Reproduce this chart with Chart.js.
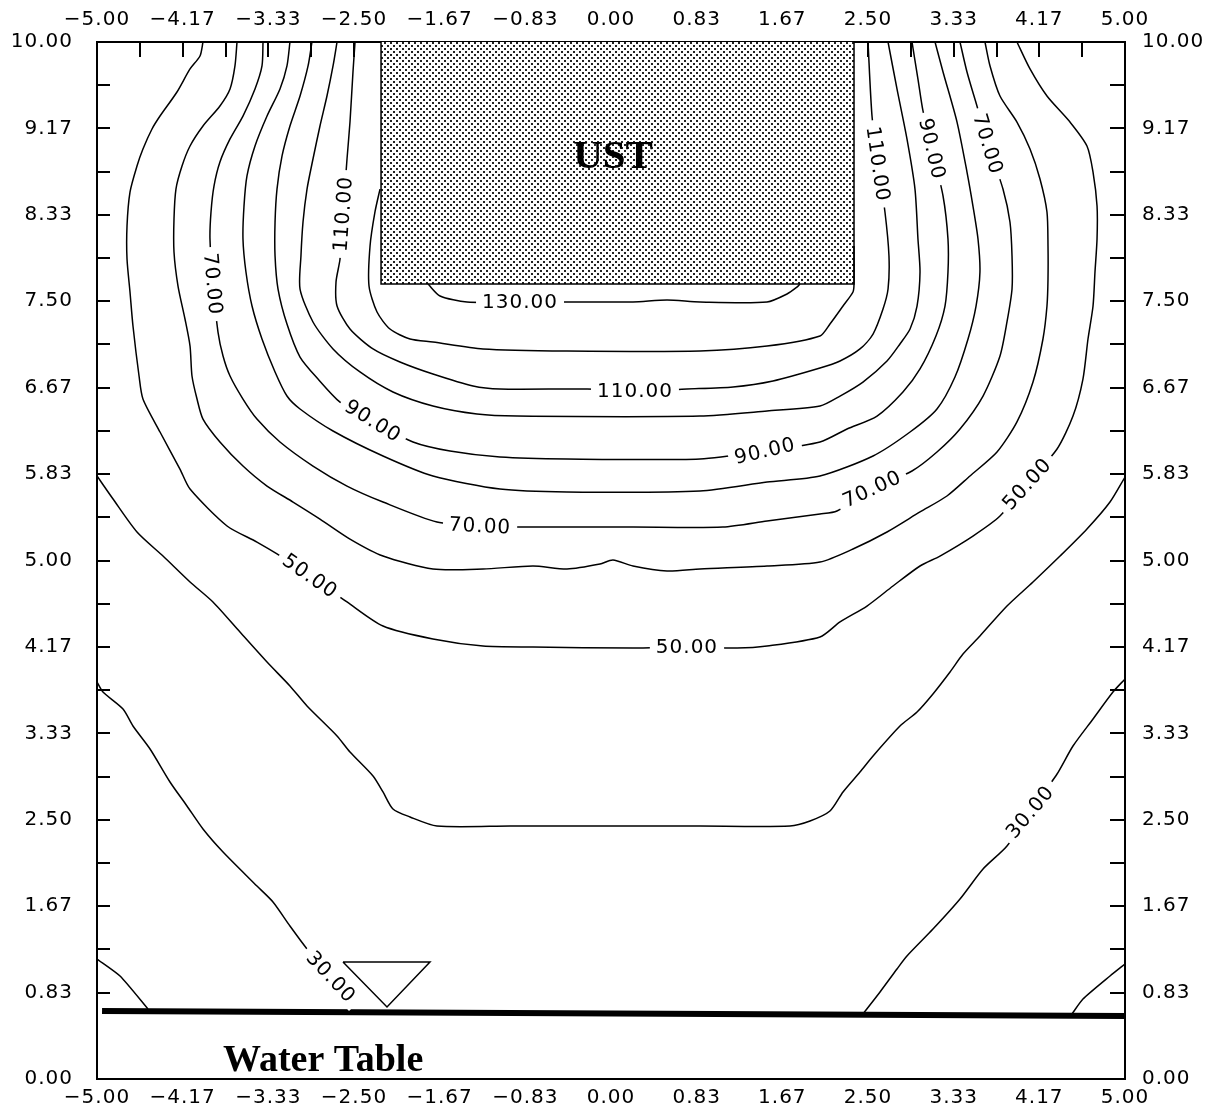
<!DOCTYPE html>
<html><head><meta charset="utf-8">
<script src="https://cdn.jsdelivr.net/npm/chart.js@4.4.1/dist/chart.umd.min.js"></script>
<style>html,body{margin:0;padding:0;background:#fff}canvas{display:block}</style>
</head><body>
<canvas id="c" width="1205" height="1119"></canvas>
<script>
const xTickLabels = ['\u22125.00','\u22124.17','\u22123.33','\u22122.50','\u22121.67','\u22120.83','0.00','0.83','1.67','2.50','3.33','4.17','5.00'];
const yTickLabels = ['0.00','0.83','1.67','2.50','3.33','4.17','5.00','5.83','6.67','7.50','8.33','9.17','10.00'];

const ust = [[-2.237,10],[-2.237,7.666],[2.364,7.666],[2.364,10]];
const waterTable = [[-4.951,0.656],[5.0,0.608]];
const triangle = [[-2.607,1.128],[-1.761,1.128],[-2.179,0.694],[-2.607,1.128]];

const cornerL = [[-5.0,1.157],[-4.776,0.993],[-4.504,0.675]];
const cornerR = [[4.484,0.627],[4.591,0.771],[4.854,0.993],[5.0,1.109]];
const c30L = [[-5.0,3.828],[-4.942,3.732],[-4.747,3.568],[-4.650,3.404],[-4.484,3.182],[-4.290,2.864],[-4.125,2.633],[-3.969,2.411],[-3.774,2.189],[-3.444,1.861],[-3.288,1.707],[-3.123,1.475],[-2.957,1.254],[-2.724,0.984],[-2.55,0.78]];
const c30R = [[2.451,0.627],[2.617,0.839],[2.782,1.061],[2.879,1.186],[3.132,1.446],[3.395,1.736],[3.619,2.025],[3.852,2.247],[4.076,2.575],[4.339,2.941],[4.494,3.211],[4.689,3.472],[4.883,3.732],[5.0,3.857]];
const c40 = [[-5.0,5.815],[-4.844,5.593],[-4.611,5.275],[-4.358,5.043],[-4.095,4.793],[-3.872,4.600],[-3.609,4.310],[-3.346,4.021],[-3.123,3.790],[-2.957,3.597],[-2.665,3.308],[-2.539,3.153],[-2.315,2.922],[-2.218,2.768],[-2.121,2.604],[-1.955,2.527],[-1.693,2.440],[-0.982,2.440],[0.866,2.440],[1.741,2.440],[1.936,2.488],[2.130,2.584],[2.257,2.768],[2.422,2.960],[2.549,3.115],[2.811,3.404],[2.977,3.539],[3.132,3.713],[3.298,3.925],[3.424,4.098],[3.589,4.272],[3.852,4.561],[4.105,4.793],[4.368,5.043],[4.630,5.304],[4.854,5.564],[5.0,5.805]];
const c50 = [[-3.969,10],[-3.998,9.865],[-4.095,9.740],[-4.222,9.518],[-4.387,9.286],[-4.465,9.161],[-4.553,8.968],[-4.611,8.804],[-4.679,8.553],[-4.708,8.226],[-4.708,7.907],[-4.679,7.589],[-4.650,7.261],[-4.591,6.779],[-4.553,6.557],[-4.387,6.239],[-4.193,5.882],[-4.095,5.689],[-3.735,5.333],[-3.444,5.178],[-3.249,5.063],[-2.928,4.850],[-2.568,4.600],[-2.218,4.368],[-1.732,4.243],[-1.245,4.175],[-0.759,4.166],[0.214,4.156],[0.739,4.166],[1.226,4.156],[1.518,4.175],[2.033,4.262],[2.228,4.407],[2.490,4.561],[2.743,4.754],[3.006,4.947],[3.200,5.043],[3.521,5.236],[3.784,5.429],[4.047,5.738],[4.339,6.075],[4.494,6.393],[4.591,6.750],[4.640,7.136],[4.689,7.454],[4.708,7.782],[4.728,8.100],[4.728,8.418],[4.689,8.746],[4.630,8.997],[4.465,9.228],[4.241,9.479],[4.076,9.740],[3.949,10]];
const c60 = [[-3.638,10],[-3.658,9.769],[-3.706,9.547],[-3.804,9.383],[-3.969,9.190],[-4.095,8.997],[-4.173,8.804],[-4.232,8.582],[-4.251,8.293],[-4.251,7.975],[-4.212,7.647],[-4.144,7.329],[-4.095,7.068],[-4.076,6.779],[-4.027,6.557],[-3.969,6.364],[-3.804,6.143],[-3.580,5.911],[-3.346,5.718],[-3.093,5.564],[-2.831,5.400],[-2.539,5.207],[-2.218,5.043],[-1.732,4.918],[-1.245,4.918],[-0.759,4.947],[-0.428,4.918],[-0.107,4.966],[0.019,5.005],[0.214,4.947],[0.545,4.899],[0.866,4.918],[1.518,4.947],[2.033,4.985],[2.354,5.111],[2.685,5.275],[3.006,5.468],[3.268,5.622],[3.492,5.815],[3.755,6.046],[3.949,6.336],[4.105,6.721],[4.202,7.136],[4.241,7.454],[4.251,7.715],[4.251,8.033],[4.241,8.361],[4.173,8.679],[4.076,8.968],[3.949,9.228],[3.784,9.479],[3.687,9.769],[3.638,10]];
const c70 = [[-3.385,10],[-3.395,9.769],[-3.463,9.547],[-3.580,9.286],[-3.706,9.065],[-3.804,8.843],[-3.862,8.611],[-3.891,8.361],[-3.901,8.100],[-3.872,7.666],[-3.823,7.203],[-3.774,6.972],[-3.706,6.779],[-3.580,6.557],[-3.444,6.364],[-3.220,6.143],[-2.899,5.911],[-2.568,5.718],[-2.218,5.564],[-1.693,5.371],[-1.274,5.333],[-0.817,5.323],[0.214,5.323],[1.089,5.323],[1.518,5.381],[2.033,5.448],[2.198,5.477],[2.539,5.689],[2.928,5.863],[3.171,6.046],[3.395,6.268],[3.619,6.586],[3.784,6.972],[3.852,7.300],[3.901,7.618],[3.901,7.936],[3.881,8.264],[3.813,8.582],[3.667,9.016],[3.560,9.383],[3.463,9.711],[3.395,10]];
const c80 = [[-3.123,10],[-3.152,9.769],[-3.220,9.547],[-3.346,9.286],[-3.463,8.997],[-3.541,8.708],[-3.570,8.418],[-3.580,8.100],[-3.551,7.782],[-3.492,7.454],[-3.395,7.136],[-3.268,6.818],[-3.152,6.586],[-3.025,6.461],[-2.704,6.249],[-2.218,6.008],[-1.732,5.815],[-1.080,5.689],[-0.428,5.661],[0.866,5.670],[1.518,5.757],[2.033,5.815],[2.549,6.008],[2.909,6.239],[3.171,6.461],[3.346,6.769],[3.473,7.136],[3.551,7.454],[3.589,7.782],[3.570,8.100],[3.521,8.418],[3.463,8.746],[3.366,9.228],[3.230,9.711],[3.152,10]];
const c90 = [[-2.909,10],[-2.947,9.769],[-3.025,9.479],[-3.123,9.190],[-3.200,8.901],[-3.249,8.582],[-3.268,8.264],[-3.268,7.936],[-3.239,7.618],[-3.152,7.280],[-3.025,6.962],[-2.850,6.750],[-2.636,6.528],[-2.315,6.345],[-1.926,6.143],[-1.566,6.056],[-1.080,5.998],[-0.428,5.979],[0.866,5.979],[1.498,6.056],[2.033,6.143],[2.296,6.268],[2.588,6.393],[2.840,6.625],[3.006,6.847],[3.161,7.165],[3.249,7.454],[3.278,7.782],[3.278,8.100],[3.230,8.515],[3.123,8.968],[3.035,9.335],[2.986,9.643],[2.928,10]];
const c100 = [[-2.665,10],[-2.704,9.769],[-2.763,9.479],[-2.831,9.190],[-2.899,8.872],[-2.957,8.582],[-2.996,8.264],[-3.016,7.936],[-3.025,7.618],[-2.899,7.300],[-2.704,7.040],[-2.442,6.818],[-2.121,6.625],[-1.732,6.490],[-1.304,6.413],[-0.914,6.393],[0.866,6.393],[1.518,6.442],[2.033,6.490],[2.228,6.586],[2.451,6.721],[2.685,6.924],[2.811,7.088],[2.909,7.232],[2.977,7.454],[3.006,7.782],[2.986,8.100],[2.957,8.582],[2.879,9.065],[2.782,9.547],[2.695,10]];
const c110 = [[-2.490,10],[-2.510,9.711],[-2.539,9.228],[-2.568,8.872],[-2.607,8.341],[-2.636,7.907],[-2.675,7.686],[-2.665,7.454],[-2.539,7.232],[-2.315,7.040],[-2.053,6.914],[-1.732,6.798],[-1.342,6.683],[-1.080,6.654],[-0.233,6.654],[0.233,6.635],[0.739,6.654],[1.187,6.673],[1.576,6.731],[2.033,6.856],[2.228,6.924],[2.422,7.040],[2.549,7.184],[2.646,7.425],[2.695,7.618],[2.704,7.936],[2.665,8.361],[2.597,8.824],[2.539,9.286],[2.500,10]];
const c120 = [[-2.247,8.582],[-2.296,8.361],[-2.344,8.033],[-2.354,7.647],[-2.276,7.396],[-2.150,7.232],[-1.955,7.136],[-1.732,7.107],[-1.245,7.040],[-0.428,7.020],[0.866,7.020],[1.518,7.068],[2.033,7.165],[2.130,7.280],[2.257,7.454],[2.354,7.589],[2.364,7.666],[2.364,8.033]];
const c130 = [[-1.780,7.666],[-1.663,7.551],[-1.401,7.493],[-0.885,7.493],[-0.370,7.493],[0.214,7.493],[0.545,7.512],[0.866,7.493],[1.518,7.493],[1.712,7.570],[1.809,7.637],[1.838,7.666]];

const contourLabelText  = ['50.00','50.00','50.00','70.00','70.00','70.00','70.00','90.00','90.00','90.00','110.00','110.00','110.00','130.00','30.00','30.00'];
const contourLabelX     = [-2.928,0.739,4.047,-3.872,-1.274,2.539,3.667,-2.315,1.498,3.123,-2.607,0.233,2.597,-0.885,-2.724,4.076];
const contourLabelY     = [4.850,4.166,5.738,7.666,5.333,5.689,9.016,6.345,6.056,8.968,8.341,6.635,8.824,7.493,0.984,2.575];
const contourLabelAngle = [35,0,-48,85,3,-25,73,32,-13,77,-86,0,82,0,47,-50];

const ustText = {text:'UST', x:0.02, y:8.89};
const waterText = {text:'Water Table', x:-2.80, y:0.17};

const ctx0 = document.getElementById('c').getContext('2d');
function dotPattern(){
  const c = document.createElement('canvas'); c.width = 6; c.height = 6;
  const g = c.getContext('2d');
  g.fillStyle = '#fff'; g.fillRect(0,0,6,6);
  g.fillStyle = '#222'; g.fillRect(0,0,2,2); g.fillRect(3,3,2,2);
  return ctx0.createPattern(c,'repeat');
}
const toPts = a => a.map(([x,y]) => ({x,y}));
const lineDs = (label, arr, w, t) => ({label, data: toPts(arr), showLine:true, pointRadius:0, borderColor:'#000', borderWidth: w, tension: t, fill:false});

const datasets = [
  lineDs('c30L', c30L, 1.5, 0.25), lineDs('c30R', c30R, 1.5, 0.25),
  lineDs('cornerL', cornerL, 1.5, 0.2), lineDs('cornerR', cornerR, 1.5, 0.2),
  lineDs('c40', c40, 1.5, 0.25), lineDs('c50', c50, 1.5, 0.25), lineDs('c60', c60, 1.5, 0.25),
  lineDs('c70', c70, 1.5, 0.25), lineDs('c80', c80, 1.5, 0.25), lineDs('c90', c90, 1.5, 0.25),
  lineDs('c100', c100, 1.5, 0.25), lineDs('c110', c110, 1.5, 0.25), lineDs('c120', c120, 1.5, 0.25),
  lineDs('c130', c130, 1.5, 0.25),
  lineDs('waterTable', waterTable, 6, 0),
  lineDs('triangle', triangle, 1.5, 0),
  Object.assign(lineDs('UST', ust, 1.5, 0), {fill:'end', backgroundColor: dotPattern()})
];

const tickPlugin = {
  id:'inTicks',
  beforeDraw(chart){ chart.ctx.letterSpacing = '1px'; },
  beforeDatasetsDraw(chart){
    const {ctx, chartArea:a, scales:{x,y}} = chart;
    ctx.save(); ctx.strokeStyle = '#000'; ctx.lineWidth = 2;
    for (let k = 1; k < 24; k++){
      const px = Math.round(x.getPixelForValue(-5 + k*10/24));
      ctx.beginPath(); ctx.moveTo(px, a.top); ctx.lineTo(px, a.top + 15); ctx.stroke();
    }
    for (let k = 2; k < 24; k++){
      const py = Math.round(y.getPixelForValue(k*10/24));
      ctx.beginPath(); ctx.moveTo(a.left, py); ctx.lineTo(a.left + 13, py); ctx.stroke();
      ctx.beginPath(); ctx.moveTo(a.right, py); ctx.lineTo(a.right - 15, py); ctx.stroke();
    }
    ctx.restore();
  },
  afterDatasetsDraw(chart){
    const {ctx, scales:{x,y}} = chart;
    ctx.save();
    ctx.font = '20px "DejaVu Sans"';
    ctx.letterSpacing = '1px';
    ctx.textAlign = 'center'; ctx.textBaseline = 'middle';
    contourLabelText.forEach((t,i) => {
      const px = x.getPixelForValue(contourLabelX[i]), py = y.getPixelForValue(contourLabelY[i]);
      ctx.save(); ctx.translate(px, py); ctx.rotate(contourLabelAngle[i]*Math.PI/180);
      const w = ctx.measureText(t).width;
      ctx.fillStyle = '#fff'; ctx.fillRect(-w/2 - 6, -10, w + 12, 20);
      ctx.fillStyle = '#000'; ctx.fillText(t, 0, 1);
      ctx.restore();
    });
    ctx.letterSpacing = '0px';
    ctx.font = 'bold 41px "Liberation Serif"';
    ctx.fillText(ustText.text, x.getPixelForValue(ustText.x), y.getPixelForValue(ustText.y));
    ctx.font = 'bold 38px "Liberation Serif"';
    ctx.fillText(waterText.text, x.getPixelForValue(waterText.x), y.getPixelForValue(waterText.y));
    ctx.restore();
  }
};

const xTickVals = xTickLabels.map((_, i) => -5 + i*10/12);
const yTickVals = yTickLabels.map((_, i) => i*10/12);
const tickFont = {family:'DejaVu Sans', size:20};
const axisCommon = (vals, labels, pad) => ({
  type:'linear',
  afterBuildTicks: s => { s.ticks = vals.map(v => ({value:v})); },
  ticks: {autoSkip:false, maxRotation:0, minRotation:0, padding:pad, color:'#000', font:tickFont,
          callback: (v, i) => labels[i]},
  grid: {display:true, drawOnChartArea:false, drawTicks:false},
  border: {display:true, color:'#000', width:2}
});

new Chart(ctx0, {
  type:'scatter',
  data:{datasets},
  options:{
    responsive:false, animation:false, devicePixelRatio:1,
    layout:{padding:0},
    plugins:{legend:{display:false}, tooltip:{enabled:false}},
    scales:{
      x: Object.assign(axisCommon(xTickVals, xTickLabels, 7), {position:'bottom', min:-5, max:5, afterFit: s => { s.height = 40; }}),
      x2: Object.assign(axisCommon(xTickVals, xTickLabels, 10), {position:'top', min:-5, max:5, afterFit: s => { s.height = 42; }}),
      y: Object.assign(axisCommon(yTickVals, yTickLabels, 24), {position:'left', min:0, max:10, afterFit: s => { s.width = 97; }}),
      y2: Object.assign(axisCommon(yTickVals, yTickLabels, 17), {position:'right', min:0, max:10, afterFit: s => { s.width = 80; }})
    }
  },
  plugins:[tickPlugin]
});
</script>
</body></html>
